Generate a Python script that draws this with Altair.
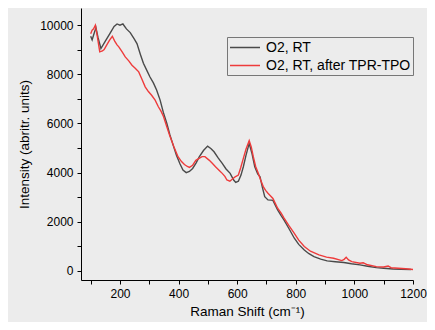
import altair as alt
import pandas as pd

series_names = ["O2, RT", "O2, RT, after TPR-TPO"]

gray_x = [100, 105, 110, 118, 125, 135, 150, 165, 180, 190, 200, 210, 222, 235, 248, 258, 270, 280, 292, 302,
          314, 325, 337, 348, 360, 370, 382, 393, 405, 415, 426, 437, 448, 460, 471, 485, 499, 510, 521, 535,
          549, 562, 576, 588, 595, 604, 613, 621, 630, 641, 650, 660, 670, 678, 686, 694, 705, 715, 722, 738,
          750, 760, 776, 795, 810, 829, 845, 862, 885, 907, 935, 964, 990, 1019, 1045, 1075, 1100, 1132, 1160, 1193]
gray_y = [9550, 9400, 9600, 9900, 9500, 9050, 9350, 9650, 9950, 10050, 10000, 10050, 9850, 9700, 9450, 9250, 8800, 8450, 8150, 7900,
          7650, 7360, 6950, 6450, 6000, 5550, 5100, 4700, 4350, 4100, 4000, 4050, 4170, 4400, 4650, 4900, 5080, 4980, 4850, 4600,
          4380, 4150, 3970, 3700, 3600, 3650, 3900, 4240, 4700, 5190, 4800, 4240, 3950, 3830, 3400, 3020, 2890, 2880, 2870, 2480,
          2250, 2070, 1735, 1330, 1080, 850, 700, 580, 480, 406, 370, 340, 290, 244, 190, 135, 110, 80, 70, 60]

red_x = [100, 105, 110, 116, 122, 131, 140, 146, 155, 165, 174, 182, 190, 196, 208, 218, 230, 241, 252, 264,
         275, 286, 297, 308, 320, 331, 340, 348, 359, 370, 384, 398, 410, 420, 430, 437, 448, 459, 470, 480,
         490, 504, 515, 526, 538, 549, 558, 565, 575, 585, 593, 604, 612, 621, 630, 641, 648, 655, 663, 672,
         680, 689, 697, 705, 714, 722, 730, 738, 750, 760, 776, 795, 810, 829, 850, 879, 905, 929, 957, 965,
         972, 980, 991, 1019, 1030, 1045, 1075, 1100, 1115, 1125, 1150, 1175, 1200]
red_y = [9650, 9800, 9850, 10000, 9600, 8915, 8950, 9010, 9200, 9400, 9550, 9350, 9200, 9120, 8900, 8710, 8550, 8370, 8250, 8100,
         7800, 7490, 7300, 7150, 6950, 6680, 6500, 6300, 5900, 5500, 5050, 4650, 4450, 4330, 4250, 4215, 4300, 4500, 4580, 4650,
         4650, 4510, 4380, 4240, 4100, 3970, 3850, 3700, 3650, 3750, 3830, 3900, 4200, 4580, 4950, 5300, 5050, 4650, 4250, 3970,
         3700, 3430, 3280, 3160, 3050, 2950, 2750, 2550, 2350, 2150, 1850, 1530, 1250, 990, 800, 650, 560, 515, 420, 470,
         555, 450, 380, 310, 330, 250, 175, 160, 200, 130, 110, 90, 60]

x_ticks = list(range(100, 1201, 100))
y_ticks = list(range(0, 10001, 1000))

df = pd.concat([
    pd.DataFrame({"shift": gray_x, "intensity": gray_y, "series": series_names[0]}),
    pd.DataFrame({"shift": red_x, "intensity": red_y, "series": series_names[1]}),
])

font = "Liberation Sans"

chart = alt.Chart(df).mark_line(strokeWidth=1.4).encode(
    x=alt.X("shift:Q", scale=alt.Scale(domain=[67, 1200], nice=False, zero=False),
            axis=alt.Axis(title="Raman Shift (cm⁻¹)", values=x_ticks,
                          labelExpr="datum.value % 200 == 0 ? datum.label : ''",
                          format="d", grid=False, labelFlush=False)),
    y=alt.Y("intensity:Q", scale=alt.Scale(domain=[-370, 10700], nice=False, zero=False),
            axis=alt.Axis(title="Intensity (abritr. units)", values=y_ticks,
                          labelExpr="datum.value % 2000 == 0 ? datum.label : ''",
                          format="d", grid=False, titlePadding=8, labelFlush=False)),
    color=alt.Color("series:N", scale=alt.Scale(domain=series_names, range=["#4a4a4a", "#ee3b3b"]),
                    legend=alt.Legend(title=None, orient="none", legendX=146, legendY=29,
                                      symbolType="M-1,0H3", symbolSize=225, symbolStrokeWidth=1.5,
                                      labelFont=font, labelFontSize=14, labelColor="#000",
                                      strokeColor="#777", padding=2, rowPadding=2,
                                      labelOffset=20, fillColor="#ececec")),
).properties(
    width=332, height=272,
    autosize=alt.AutoSizeParams(type="none"),
    padding={"left": 73, "top": 0, "right": 14, "bottom": 42},
    background="#ececec",
).configure_view(stroke=None).configure_axis(
    domainColor="#000", tickColor="#000", labelColor="#000", titleColor="#000",
    labelFont=font, titleFont=font, labelFontSize=12, titleFontSize=13.5,
    titleFontWeight="normal", tickSize=4, labelPadding=4,
).configure_axisX(titlePadding=5)

chart.save("out.html", embed_options={"renderer": "svg", "actions": False})
